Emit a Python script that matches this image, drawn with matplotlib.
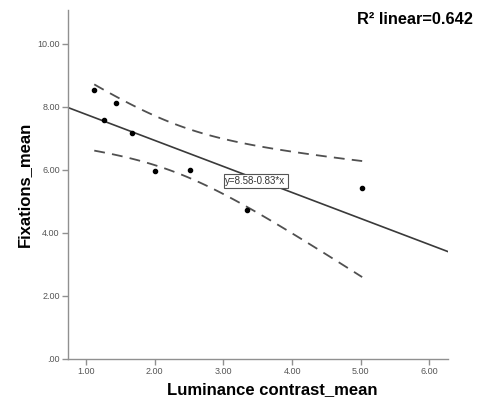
import numpy as np
import matplotlib
matplotlib.use("Agg")
import matplotlib.pyplot as plt

plt.rcParams['font.family'] = ['Liberation Sans', 'DejaVu Sans']

# Data
lum_contrast = [1.12, 1.26, 1.43, 1.67, 2.01, 2.51, 3.35, 5.02]
fixations = [8.54, 7.59, 8.13, 7.18, 5.96, 6.01, 4.72, 5.42]
x_ticks = [1, 2, 3, 4, 5, 6]
x_tick_labels = ["1.00", "2.00", "3.00", "4.00", "5.00", "6.00"]
y_ticks = [0, 2, 4, 6, 8, 10]
y_tick_labels = [".00", "2.00", "4.00", "6.00", "8.00", "10.00"]
eq_label = "y=8.58-0.83*x"
r2_label = "R² linear=0.642"
t_crit = 2.447  # t(0.975, df=6)

x = np.array(lum_contrast)
y = np.array(fixations)
n = len(x)
slope, intercept = np.polyfit(x, y, 1)
res = y - (intercept + slope * x)
s = np.sqrt(np.sum(res ** 2) / (n - 2))
xbar = x.mean()
sxx = np.sum((x - xbar) ** 2)

fig = plt.figure(figsize=(4.8, 3.99), dpi=100)
ax = fig.add_axes([0.1417, 0.1003, 0.7910, 0.8747])
xmin, xmax = 0.738, 6.265
ymin, ymax = 0.0, 11.08
ax.set_xlim(xmin, xmax)
ax.set_ylim(ymin, ymax)

line_col = '#3a3a3a'
xl = np.array([xmin, xmax])
ax.plot(xl, intercept + slope * xl, color=line_col, lw=1.2, zorder=2)

xb = np.linspace(x.min(), x.max(), 100)
yb = intercept + slope * xb
se = s * np.sqrt(1.0 / n + (xb - xbar) ** 2 / sxx)
for sign in (1, -1):
    ax.plot(xb, yb + sign * t_crit * se, color='#505050', lw=1.3,
            dashes=(6, 4), zorder=2)

ax.scatter(x, y, s=9, color='black', zorder=3)

ax.text(3.03, 5.65, eq_label, fontsize=7, color='#333333', va='center', ha='left',
        bbox=dict(boxstyle='square,pad=0.2', fc='white', ec='#555555', lw=0.8), zorder=4)

fig.text(0.985, 0.950, r2_label, fontsize=11.8, fontweight='bold', ha='right', va='center')

for sp in ['top', 'right']:
    ax.spines[sp].set_visible(False)
for sp in ['left', 'bottom']:
    ax.spines[sp].set_color('#909090')
    ax.spines[sp].set_linewidth(1.0)

ax.set_xticks(x_ticks)
ax.set_xticklabels(x_tick_labels)
ax.set_yticks(y_ticks)
ax.set_yticklabels(y_tick_labels)
ax.tick_params(axis='both', colors='#909090', length=4, width=1.0, labelsize=6.5,
               labelcolor='#555555', pad=2)

ax.set_xlabel("Luminance contrast_mean", fontsize=12, fontweight='bold', labelpad=4)
ax.xaxis.label.set_x(0.537)
ax.set_ylabel("Fixations_mean", fontsize=12, fontweight='bold', labelpad=4)

fig.savefig("out.png", dpi=100)
